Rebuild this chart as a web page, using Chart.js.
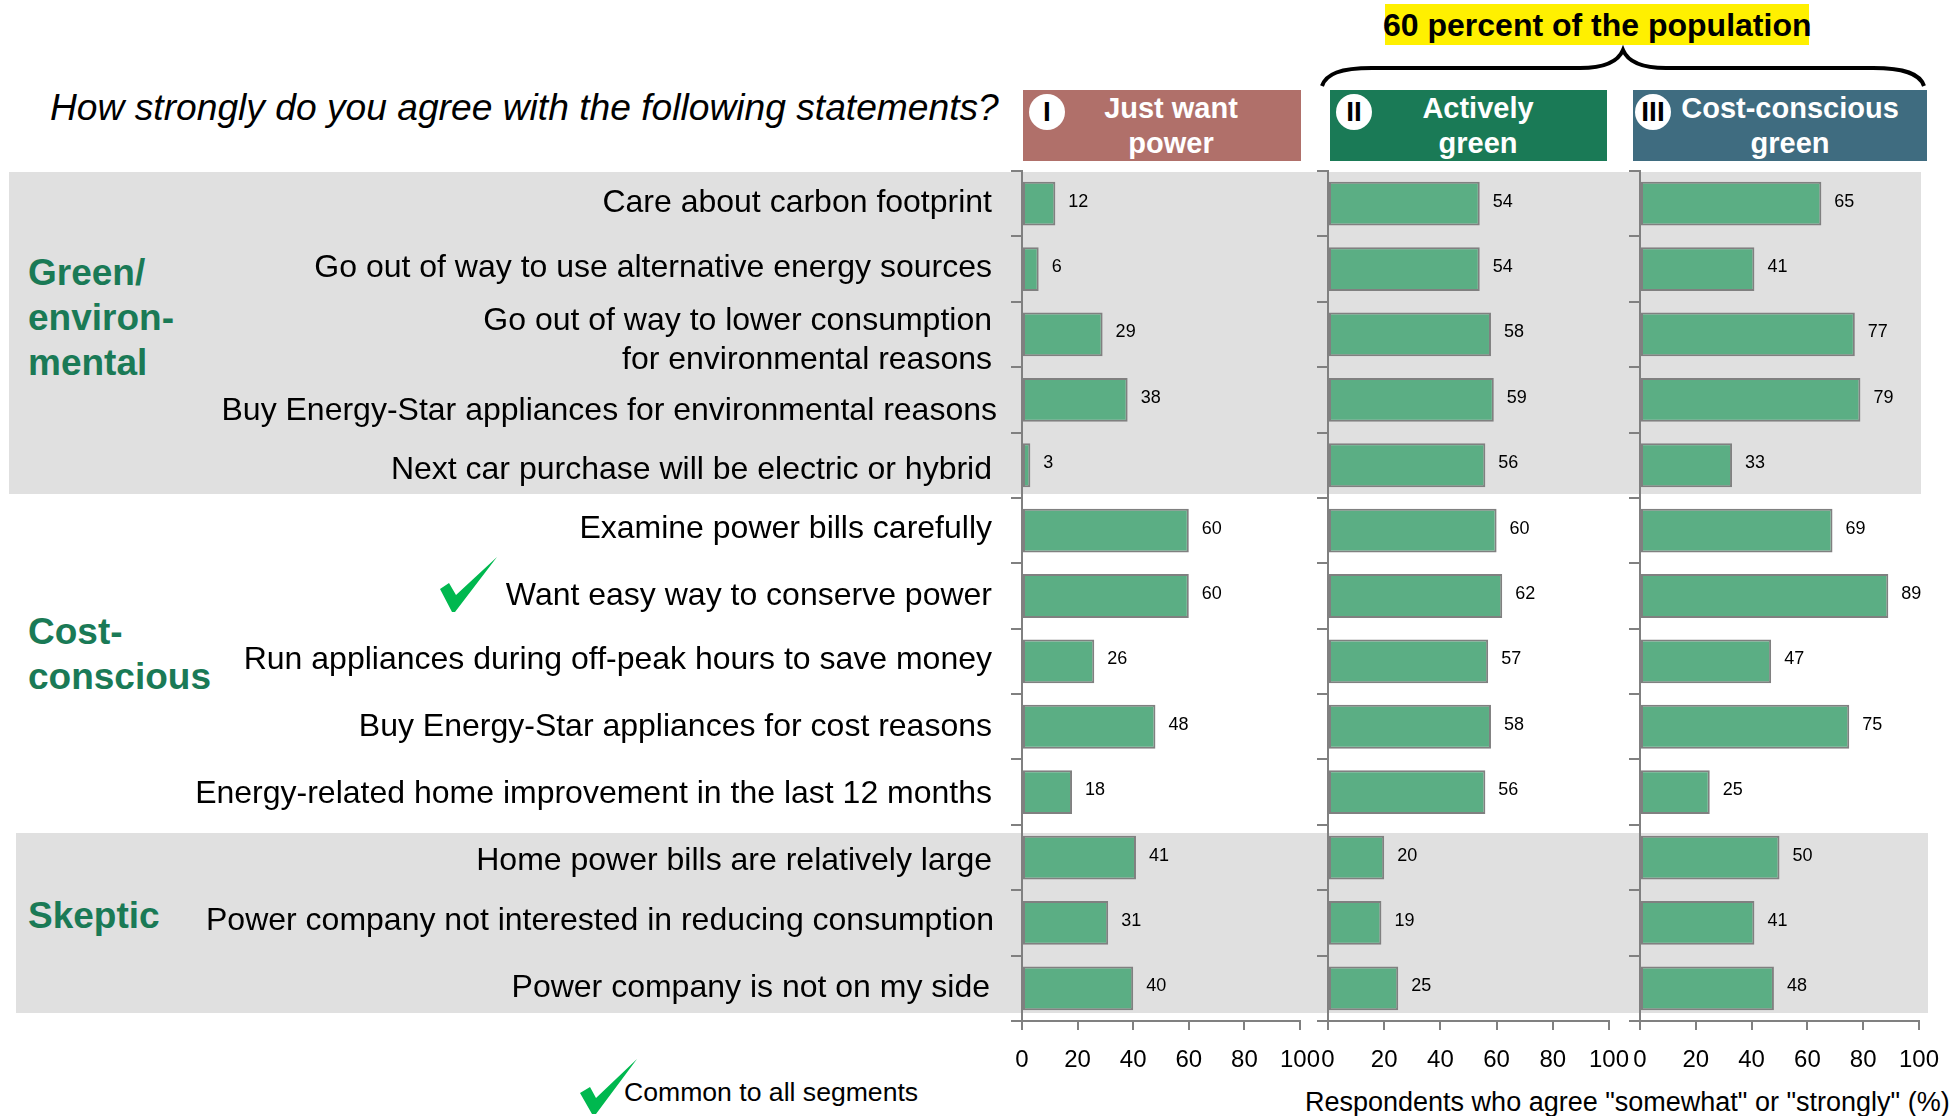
<!DOCTYPE html>
<html><head><meta charset="utf-8">
<script src="https://cdn.jsdelivr.net/npm/chart.js@4"></script>
<style>
html,body{margin:0;padding:0;background:#fff;width:1957px;height:1116px;overflow:hidden;font-family:"Liberation Sans",Arial,sans-serif}
.a{position:absolute;white-space:nowrap}
canvas{position:absolute;top:0}
.band{position:absolute;background:#e0e0e0}
.hd{position:absolute;color:#fff;font-weight:bold;font-size:29px;text-align:center;line-height:35px}
.rn{position:absolute;width:36px;height:36px;border-radius:50%;background:#fff;color:#000;font-weight:bold;font-size:28px;line-height:36px;text-align:center;top:94px}
.grp{position:absolute;left:28px;color:#1a7a56;font-weight:bold;font-size:37px;line-height:45px;white-space:nowrap}
</style></head><body>
<div class="band" style="left:9px;top:172px;width:1912px;height:322px"></div>
<div class="band" style="left:16px;top:833px;width:1912px;height:180px"></div>
<div class="a" style="left:50px;top:86px;font-size:37.2px;font-style:italic;line-height:42px">How strongly do you agree with the following statements?</div>
<div class="a" style="left:1385px;top:4px;width:424px;height:41px;background:#fff000"></div>
<div class="a" style="left:1383px;top:5px;width:422px;text-align:center;font-size:32px;font-weight:bold;line-height:41px">60 percent of the population</div>
<svg class="a" style="left:0;top:0" width="1957" height="1116">
<path d="M1322 86 C1326 74 1340 68 1372 68 L1580 68 C1604 68 1618 62 1623 50 C1628 62 1642 68 1666 68 L1873 68 C1905 68 1920 74 1924 86" fill="none" stroke="#000" stroke-width="4"/>
<polygon points="440,589 449,583 456,595 497,557 455,612 452,612" fill="#00b84f"/>
<polygon points="580,1093 590,1087 596,1098 637,1059 596,1114 592,1114" fill="#00b84f"/>
</svg>
<div class="hd" style="left:1023px;top:90px;width:278px;height:71px;background:#b0706a"></div>
<div class="hd" style="left:1330px;top:90px;width:277px;height:71px;background:#1a7a56"></div>
<div class="hd" style="left:1633px;top:90px;width:294px;height:71px;background:#3f6c80"></div>
<div class="hd" style="left:1031px;top:91px;width:280px">Just want<br>power</div>
<div class="hd" style="left:1338px;top:91px;width:280px">Actively<br>green</div>
<div class="hd" style="left:1650px;top:91px;width:280px">Cost-conscious<br>green</div>
<div class="rn" style="left:1029px">I</div>
<div class="rn" style="left:1336px">II</div>
<div class="rn" style="left:1635px">III</div>
<div class="grp" style="top:250px">Green/<br>environ-<br>mental</div>
<div class="grp" style="top:609px">Cost-<br>conscious</div>
<div class="grp" style="top:893px">Skeptic</div>
<div class="a" style="left:624px;top:1076px;font-size:26.6px;line-height:32px">Common to all segments</div>
<div class="a" style="left:1305px;top:1086px;font-size:27px;line-height:32px">Respondents who agree "somewhat" or "strongly" (%)</div>
<canvas id="c1"></canvas><canvas id="c2"></canvas><canvas id="c3"></canvas>
<script>
const categories = [
  'Care about carbon footprint',
  'Go out of way to use alternative energy sources',
  ['Go out of way to lower consumption','for environmental reasons'],
  'Buy Energy-Star appliances for environmental reasons',
  'Next car purchase will be electric or hybrid',
  'Examine power bills carefully',
  'Want easy way to conserve power',
  'Run appliances during off-peak hours to save money',
  'Buy Energy-Star appliances for cost reasons',
  'Energy-related home improvement in the last 12 months',
  'Home power bills are relatively large',
  'Power company not interested in reducing consumption',
  'Power company is not on my side'
];
const justWantPower = [12,6,29,38,3,60,60,26,48,18,41,31,40];
const activelyGreen = [54,54,58,59,56,60,62,57,58,56,20,19,25];
const costConsciousGreen = [65,41,77,79,33,69,89,47,75,25,50,41,48];
const xTicks = [0,20,40,60,80,100];

// hand placement of the row labels, as in the source slide
const labelShiftX = [0,0,0,5,0,0,0,0,0,0,0,2,-2];
const labelShiftY = [-1,-1,6,11,5,-1,0,-1,0,2,4,-2,0];

const GREY = '#808080';
const valueLabels = {
  id: 'valueLabels',
  beforeDraw(chart) {
    if (!chart.options.scales.y.ticks.display) return;
    chart.scales.y.getLabelItems(chart.chartArea).forEach((item, i) => {
      item.options.translation[0] += labelShiftX[i];
      item.options.translation[1] += labelShiftY[i];
    });
  },
  afterDatasetsDraw(chart) {
    const ctx = chart.ctx;
    const ds = chart.data.datasets[0];
    ctx.save();
    ctx.font = '18px "Liberation Sans"';
    ctx.fillStyle = '#000';
    ctx.textAlign = 'left';
    ctx.textBaseline = 'middle';
    chart.getDatasetMeta(0).data.forEach((el, i) => {
      ctx.fillText(String(ds.data[i]), el.x + 13, el.y - 2);
    });
    ctx.restore();
  }
};

function panel(id, left, width, axisWidth, plotWidth, values, showLabels) {
  const cv = document.getElementById(id);
  cv.width = width; cv.height = 1116;
  cv.style.left = left + 'px';
  new Chart(cv, {
    type: 'bar',
    data: { labels: categories, datasets: [{
      data: values,
      backgroundColor: '#5bae84',
      borderColor: GREY,
      borderWidth: 2,
      borderSkipped: false,
      barPercentage: 0.67,
      categoryPercentage: 1
    }]},
    options: {
      indexAxis: 'y',
      responsive: false,
      animation: false,
      layout: { padding: { top: 171, right: width - axisWidth - plotWidth, left: 0, bottom: 0 } },
      plugins: { legend: { display: false }, tooltip: { enabled: false } },
      scales: {
        y: {
          afterFit(s) { s.width = axisWidth; },
          border: { color: GREY, width: 2 },
          grid: { drawOnChartArea: false, color: GREY, lineWidth: 2, tickLength: 11, offset: true },
          ticks: {
            display: showLabels,
            autoSkip: false,
            color: '#000',
            padding: 19,
            font: { family: 'Liberation Sans', size: 32, lineHeight: 1.21 }
          }
        },
        x: {
          min: 0, max: 100,
          afterFit(s) { s.height = 95; },
          afterBuildTicks(s) { s.ticks = xTicks.map(v => ({ value: v })); },
          border: { color: GREY, width: 2 },
          grid: { drawOnChartArea: false, color: GREY, lineWidth: 2, tickLength: 9 },
          ticks: {
            color: '#000',
            padding: 16,
            maxRotation: 0,
            font: { family: 'Liberation Sans', size: 24 }
          }
        }
      }
    },
    plugins: [valueLabels]
  });
}
panel('c1', 0, 1345, 1022, 278, justWantPower, true);
panel('c2', 1298, 660, 30, 281, activelyGreen, false);
panel('c3', 1610, 347, 30, 279, costConsciousGreen, false);
</script>
</body></html>
